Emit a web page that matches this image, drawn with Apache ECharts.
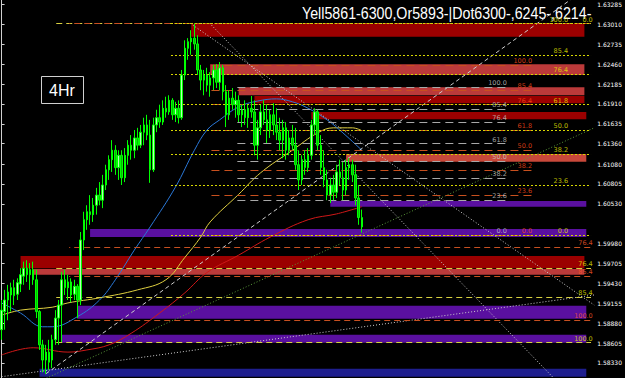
<!DOCTYPE html>
<html><head><meta charset="utf-8">
<script src="https://cdn.jsdelivr.net/npm/echarts@6/dist/echarts.min.js"></script>
<style>html,body{margin:0;padding:0;background:#000;}#c{width:625px;height:378px;}</style>
</head><body><div id="c"></div>
<script>
// ---- DATA ----
// candles: [open, close, low, high]
const candles = [
[1.5879,1.5906,1.5865,1.5920],[1.5904,1.5920,1.5879,1.5934],[1.5920,1.5931,1.5892,1.5941],[1.5927,1.5937,1.5904,1.5944],
[1.5937,1.5926,1.5913,1.5948],[1.5928,1.5944,1.5920,1.5950],[1.5942,1.5955,1.5931,1.5964],[1.5953,1.5964,1.5941,1.5973],
[1.5964,1.5955,1.5945,1.5975],[1.5955,1.5962,1.5934,1.5971],[1.5962,1.5948,1.5941,1.5973],[1.5948,1.5904,1.5895,1.5962],
[1.5904,1.5858,1.5851,1.5906],[1.5858,1.5837,1.5820,1.5865],[1.5837,1.5848,1.5818,1.5858],[1.5848,1.5834,1.5823,1.5865],
[1.5837,1.5865,1.5826,1.5872],[1.5865,1.5895,1.5858,1.5906],[1.5895,1.5913,1.5858,1.5920],[1.5913,1.5948,1.5862,1.5959],
[1.5948,1.5937,1.5927,1.5962],[1.5937,1.5945,1.5920,1.5955],[1.5945,1.5927,1.5917,1.5950],[1.5928,1.5939,1.5920,1.5948],
[1.5939,1.5920,1.5895,1.5942],[1.5920,1.6003,1.5913,1.6014],[1.6003,1.6031,1.5989,1.6042],[1.6031,1.6042,1.6017,1.6051],
[1.6042,1.6038,1.6024,1.6065],[1.6038,1.6051,1.6028,1.6061],[1.6051,1.6065,1.6038,1.6075],[1.6065,1.6058,1.6051,1.6083],
[1.6058,1.6079,1.6047,1.6093],[1.6079,1.6100,1.6072,1.6107],[1.6100,1.6114,1.6086,1.6120],[1.6114,1.6127,1.6097,1.6141],
[1.6127,1.6103,1.6093,1.6134],[1.6103,1.6120,1.6086,1.6127],[1.6120,1.6089,1.6079,1.6127],[1.6089,1.6120,1.6083,1.6130],
[1.6120,1.6134,1.6107,1.6141],[1.6134,1.6127,1.6114,1.6148],[1.6127,1.6144,1.6116,1.6155],[1.6144,1.6134,1.6127,1.6158],
[1.6134,1.6152,1.6130,1.6162],[1.6152,1.6162,1.6134,1.6172],[1.6162,1.6148,1.6141,1.6176],[1.6148,1.6100,1.6082,1.6169],
[1.6100,1.6162,1.6097,1.6172],[1.6162,1.6172,1.6152,1.6183],[1.6172,1.6166,1.6158,1.6190],[1.6166,1.6185,1.6162,1.6196],
[1.6185,1.6180,1.6172,1.6201],[1.6180,1.6196,1.6176,1.6203],[1.6196,1.6176,1.6169,1.6199],[1.6176,1.6185,1.6166,1.6194],
[1.6185,1.6172,1.6164,1.6196],[1.6172,1.6231,1.6169,1.6238],[1.6231,1.6268,1.6224,1.6279],[1.6268,1.6277,1.6252,1.6282],
[1.6277,1.6282,1.6259,1.6293],[1.6282,1.6274,1.6266,1.6302],[1.6274,1.6238,1.6231,1.6286],[1.6238,1.6224,1.6210,1.6245],
[1.6224,1.6231,1.6203,1.6238],[1.6231,1.6217,1.6208,1.6241],[1.6217,1.6227,1.6201,1.6235],[1.6227,1.6238,1.6210,1.6245],
[1.6238,1.6221,1.6213,1.6246],[1.6221,1.6241,1.6210,1.6249],[1.6241,1.6208,1.6196,1.6245],[1.6208,1.6176,1.6159,1.6217],
[1.6176,1.6199,1.6169,1.6210],[1.6199,1.6190,1.6183,1.6213],[1.6190,1.6196,1.6172,1.6208],[1.6196,1.6176,1.6166,1.6203],
[1.6176,1.6183,1.6159,1.6190],[1.6183,1.6172,1.6162,1.6196],[1.6172,1.6185,1.6158,1.6190],[1.6185,1.6180,1.6172,1.6202],
[1.6180,1.6134,1.6120,1.6196],[1.6134,1.6158,1.6114,1.6169],[1.6158,1.6180,1.6148,1.6190],[1.6180,1.6169,1.6162,1.6196],
[1.6169,1.6155,1.6137,1.6190],[1.6155,1.6176,1.6144,1.6183],[1.6176,1.6162,1.6148,1.6192],[1.6162,1.6152,1.6141,1.6185],
[1.6152,1.6141,1.6127,1.6172],[1.6141,1.6158,1.6116,1.6169],[1.6158,1.6127,1.6114,1.6166],[1.6127,1.6144,1.6120,1.6155],
[1.6144,1.6134,1.6127,1.6162],[1.6134,1.6107,1.6100,1.6158],[1.6107,1.6086,1.6072,1.6127],[1.6086,1.6114,1.6079,1.6120],
[1.6114,1.6103,1.6093,1.6127],[1.6103,1.6120,1.6097,1.6130],[1.6120,1.6162,1.6114,1.6169],[1.6162,1.6180,1.6148,1.6185],
[1.6180,1.6134,1.6127,1.6183],[1.6134,1.6103,1.6093,1.6148],[1.6103,1.6086,1.6076,1.6127],[1.6086,1.6065,1.6058,1.6100],
[1.6065,1.6079,1.6054,1.6089],[1.6079,1.6069,1.6058,1.6093],[1.6069,1.6097,1.6061,1.6107],[1.6097,1.6089,1.6079,1.6114],
[1.6089,1.6072,1.6058,1.6111],[1.6072,1.6103,1.6065,1.6114],[1.6103,1.6107,1.6086,1.6116],[1.6107,1.6093,1.6083,1.6114],
[1.6093,1.6061,1.6051,1.6107],[1.6061,1.6034,1.6024,1.6079],[1.6034,1.6021,1.6013,1.6045]
];
const totalBars = 188;
const currentPrice = 1.60208;

// moving averages: [bar, price]
const blueMA = [[0,1.5916],[6,1.5902],[13,1.5883],[16,1.5883],[24,1.5897],[31,1.5920],[36,1.5948],[42,1.5989],[47,1.6021],
  [55,1.6076],[61,1.6127],[65,1.6155],[69,1.6169],[75,1.6187],[81,1.6195],[87,1.6198],[92,1.6194],[97,1.6185],[103,1.6169],[108,1.6151],[114,1.6127]];
const yellowMA = [[0,1.5899],[6,1.5906],[16,1.5910],[21,1.5916],[31,1.5923],[43,1.5934],[52,1.5948],[58,1.5979],[63,1.6007],
  [66,1.6028],[75,1.6066],[82,1.6096],[92,1.6127],[100,1.6151],[105,1.6158],[111,1.6158],[114,1.6154]];
const redMA = [[0,1.5844],[10,1.5854],[21,1.5848],[27,1.5851],[34,1.5858],[41,1.5874],[50,1.5902],[58,1.5930],[65,1.5958],
  [75,1.5982],[85,1.6007],[97,1.6031],[106,1.6039],[114,1.6049]];

// price zones: [startBar, endBar, top, bottom, kind]
const zones = [
  [60,184.4,1.6302,1.6284,'dark'],[66,184.4,1.6246,1.6231,'light'],[75,184.4,1.6214,1.6203,'light'],
  [80,184.4,1.6202,1.6192,'dark'],[98,185,1.6180,1.6170,'dark'],[109,185,1.6122,1.6111,'salmon'],
  [104,185,1.6057,1.6049,'purple'],[28,185,1.6018,1.6007,'purple'],[6,184.4,1.5981,1.5964,'dark'],
  [10,184.4,1.5963,1.5955,'light'],[24,185,1.5912,1.5894,'purple'],[19,185,1.5872,1.5861,'purple'],[12,185,1.5825,1.5814,'blue']
];

// fibonacci level sets: [startBar, endBar, labelBar], levels, prices
const fibALevels = ['100.0','85.4','76.4','61.8','50.0','38.2','23.6','0.0'];
const fibAPrices = [1.6302,1.6259,1.6232,1.6190,1.6155,1.6122,1.6079,1.6010];
const fibASpan = [53.6,186.5,179.4];
const fibCLevels = ['100.0','85.4','76.4','61.8','50.0','38.2','23.6','0.0'];
const fibCPrices = [1.6245,1.6210,1.6190,1.6155,1.6127,1.6100,1.6065,1.6010];
const fibCSpan = [66.4,168.4,168];
const fibDLevels = ['100.0','85.4','76.4','61.8','50.0','38.2','23.6','0.0'];
const fibDPrices = [1.6214,1.6184,1.6166,1.6136,1.6112,1.6089,1.6058,1.6010];
const fibDSpan = [74.6,160,160];
const fibBYLevels = ['0.0','76.4','85.4','100.0'];
const fibBYPrices = [1.6302,1.5964,1.5924,1.5861];
const fibBYSpan = [17.3,186.5,187.2];
const fibBOLevels = ['0.0','76.4','85.4','100.0'];
const fibBOPrices = [1.6302,1.5993,1.5953,1.5892];
const fibBOSpan = [21.4,186.5,187.2];

// trend lines: [[bar,price],[bar,price]]
const trendUpDashed = [[14,1.5818],[180,1.6335]];
const trendUpDotted = [[0,1.5814],[187.5,1.5927]];
const trendUpGreen = [[14.2,1.5812],[187.5,1.6158]];
const trendDown1 = [[60.5,1.6300],[187.5,1.5913]];
const trendDown2 = [[66.4,1.6300],[174.7,1.5812]];

const yTicks = [1.63285,1.63010,1.62735,1.62460,1.62185,1.61910,1.61635,1.61360,1.61080,1.60805,1.60530,1.59980,1.59705,1.59430,1.59155,1.58880,1.58605,1.58330];
const yMin = 1.58122, yMax = 1.63347;
const titleText = 'Yell5861-6300,Or5893-|Dot6300-,6245-,6214-';
const tfText = '4Hr';

// ---- CHART ----
const zoneColors = {dark:'#9b0000', light:'#bb3a3a', salmon:'#c8483a', purple:'#5a10a0', blue:'#1e1e8e'};
const cats = []; for (let i = 0; i < totalBars; i++) cats.push(String(i));

function fibLines(prices, span) {
  return prices.map(p => [{coord:[span[0], p]}, {coord:[span[1], p]}]);
}
function fibLabels(levels, prices, span, color) {
  return levels.map((l, i) => ({value:[span[2], prices[i], l], label:{color: color}}));
}
function dummy(name, z, extra) {
  return Object.assign({type:'line', name, xAxisIndex:1, data:[[0, yMin - 1]], symbol:'none',
    lineStyle:{opacity:0}, silent:true, z}, extra);
}
function mlSeries(name, prices, span, color, dash, z, offset) {
  return dummy(name, z, {markLine:{silent:true, symbol:['none','none'], animation:false,
    label:{show:false}, lineStyle:{color, width:1, type:dash, dashOffset: offset||0}, data: fibLines(prices, span)}});
}
function lineSeries(data, color, dash, width, z, smooth) {
  return {type:'line', xAxisIndex:1, data, symbol:'none', smooth: smooth||false, silent:true, z,
    lineStyle:{color, width: width||1, type: dash||'solid'}};
}

const labelSeries = {
  type:'scatter', xAxisIndex:1, symbolSize:1, itemStyle:{color:'rgba(0,0,0,0)'}, silent:true, z:20,
  label:{show:true, position:'left', distance:0, offset:[0,-4], fontSize:6.5, fontFamily:'DejaVu Sans',
    formatter: p => p.value[2]},
  data: [].concat(
    fibLabels(fibALevels, fibAPrices, fibASpan, '#e6e600'),
    fibLabels(fibCLevels, fibCPrices, fibCSpan, '#ff4a1a'),
    fibLabels(fibDLevels, fibDPrices, fibDSpan, '#c8c8c8'),
    fibLabels(fibBYLevels, fibBYPrices, fibBYSpan, '#e6e600'),
    fibLabels(fibBOLevels.slice(1), fibBOPrices.slice(1), fibBOSpan, '#ff5a28')
  )
};

const chart = echarts.init(document.getElementById('c'), null, {renderer:'svg'});
chart.setOption({
  backgroundColor:'#000000',
  animation:false,
  grid:{left:0, right:24, top:0, bottom:0},
  xAxis:[
    {type:'category', data:cats, show:false, boundaryGap:true},
    {type:'value', min:-0.5, max:totalBars - 0.5, show:false}
  ],
  yAxis:{type:'value', position:'right', min:yMin, max:yMax, scale:true,
    axisLine:{show:true, lineStyle:{color:'#d0d0d0', width:1}},
    axisTick:{show:true, length:3, customValues:yTicks, lineStyle:{color:'#d0d0d0'}},
    axisLabel:{show:true, customValues:yTicks, color:'#ffffff', fontSize:6, margin:3, fontFamily:'DejaVu Sans',
      formatter: v => v.toFixed(5)},
    splitLine:{show:false}
  },
  graphic:[
    {type:'text', x:302, y:13, scaleX:0.89, style:{text:titleText, fill:'#ffffff', font:'16px "Liberation Sans", Arial, sans-serif', verticalAlign:'middle', textAlign:'left'}},
    {type:'rect', shape:{x:41.5, y:76.5, width:42, height:27}, style:{fill:'none', stroke:'#d0d0d0', lineWidth:1}},
    {type:'text', x:62, y:90, style:{text:tfText, fill:'#ffffff', font:'16px "Liberation Sans", Arial, sans-serif', verticalAlign:'middle', textAlign:'center'}}
  ],
  series:[
    dummy('zones', 1, {markArea:{silent:true, data: zones.map(z => [
      {coord:[z[0], z[2]], itemStyle:{color: zoneColors[z[4]]}}, {coord:[z[1], z[3]]}])}}),
    lineSeries(redMA, '#d01818', 'solid', 1, 3, 0.4),
    lineSeries(yellowMA, '#e0d040', 'solid', 1, 3, 0.4),
    lineSeries(blueMA, '#2a78d8', 'solid', 1, 3, 0.4),
    lineSeries(trendUpDashed, '#cfcfcf', [4,3], 1, 4),
    lineSeries(trendUpDotted, '#cfcfcf', [1,2], 1, 4),
    lineSeries(trendUpGreen, '#5a9a3a', [1,2], 1, 4),
    lineSeries(trendDown1, '#cfcfcf', [1,2], 1, 4),
    lineSeries(trendDown2, '#cfcfcf', [1,2], 1, 4),
    mlSeries('fibBY', fibBYPrices, fibBYSpan, '#d8d040', [6,4], 6, 0),
    mlSeries('fibBO', fibBOPrices, fibBOSpan, '#c85020', [6,4], 6, 5),
    mlSeries('fibD', fibDPrices, fibDSpan, '#a8a8a8', [8,5], 6, 0),
    mlSeries('fibC', fibCPrices, fibCSpan, '#c8501e', [8,5], 6, 0),
    mlSeries('fibA', fibAPrices, fibASpan, '#d8d800', [2,2], 7, 0),
    {type:'candlestick', xAxisIndex:0, data:candles, barWidth:2, z:10, silent:true,
      itemStyle:{color:'#b8ffb8', color0:'#00c000', borderColor:'#00ff00', borderColor0:'#00ff00', borderWidth:1},
      markLine:{silent:true, symbol:['none','none'], lineStyle:{opacity:0},
        label:{show:true, position:'end', distance:2, color:'#000000', backgroundColor:'#ffffff', fontSize:6, padding:[1,2], fontFamily:'DejaVu Sans',
          formatter: () => currentPrice.toFixed(5)},
        data:[{yAxis:currentPrice}]}
    },
    labelSeries
  ]
});
</script>
</body></html>
